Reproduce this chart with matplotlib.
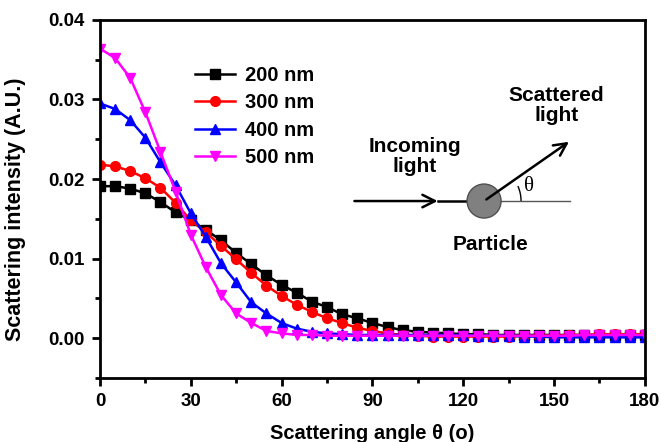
import numpy as np
import matplotlib
matplotlib.use("Agg")
import matplotlib.pyplot as plt
from matplotlib.patches import Ellipse, Arc
from matplotlib.ticker import MultipleLocator

plt.rcParams['font.family'] = ['Liberation Sans', 'DejaVu Sans']
plt.rcParams['font.weight'] = 'bold'

# ---------------- data ----------------
angle = list(range(0, 181, 5))

i_200 = [0.0191, 0.0191, 0.0188, 0.0182, 0.0171, 0.0158, 0.0148, 0.0136, 0.0123, 0.0107,
         0.0093, 0.0079, 0.0067, 0.0057, 0.0046, 0.0039, 0.0030, 0.0025, 0.0019, 0.0014,
         0.0010, 0.0008, 0.0007, 0.0006, 0.0005, 0.0005, 0.0004, 0.0004, 0.0004, 0.0004,
         0.0004, 0.0004, 0.0004, 0.0004, 0.0004, 0.0004, 0.0004]
i_300 = [0.0218, 0.0216, 0.0210, 0.0201, 0.0189, 0.0170, 0.0148, 0.0133, 0.0116, 0.0099,
         0.0082, 0.0066, 0.0053, 0.0042, 0.0033, 0.0025, 0.0019, 0.0013, 0.0009, 0.0006,
         0.0004, 0.0003, 0.0002, 0.0002, 0.0002, 0.0002, 0.0002, 0.0002, 0.0003, 0.0003,
         0.0003, 0.0004, 0.0004, 0.0005, 0.0005, 0.0005, 0.0005]
i_400 = [0.0295, 0.0288, 0.0274, 0.0252, 0.0221, 0.0192, 0.0157, 0.0127, 0.0094, 0.0070,
         0.0045, 0.0031, 0.0019, 0.0012, 0.0008, 0.0006, 0.0005, 0.0004, 0.0004, 0.0004,
         0.0004, 0.0004, 0.0004, 0.0004, 0.0004, 0.0003, 0.0003, 0.0003, 0.0002, 0.0002,
         0.0001, 0.0001, 0.0001, 0.0001, 0.0001, 0.0001, 0.0001]
i_500 = [0.0364, 0.0352, 0.0327, 0.0284, 0.0234, 0.0184, 0.0130, 0.0089, 0.0054, 0.0031,
         0.0019, 0.0009, 0.0006, 0.0004, 0.0004, 0.0003, 0.0003, 0.0003, 0.0003, 0.0003,
         0.0003, 0.0003, 0.0003, 0.0003, 0.0003, 0.0003, 0.0003, 0.0003, 0.0003, 0.0003,
         0.0003, 0.0003, 0.0004, 0.0004, 0.0004, 0.0004, 0.0004]

series = [
    ("200 nm", i_200, "black", "s"),
    ("300 nm", i_300, "red", "o"),
    ("400 nm", i_400, "blue", "^"),
    ("500 nm", i_500, "magenta", "v"),
]

fig = plt.figure(figsize=(6.62, 4.42), dpi=100)
ax = fig.add_axes([0.151, 0.145, 0.823, 0.81])

for label, vals, col, mk in series:
    ax.plot(angle, vals, color=col, marker=mk, markersize=7, linewidth=1.8, label=label)

ax.set_xlim(0, 180)
ax.set_ylim(-0.005, 0.04)
ax.xaxis.set_major_locator(MultipleLocator(30))
ax.xaxis.set_minor_locator(MultipleLocator(15))
ax.yaxis.set_minor_locator(MultipleLocator(0.005))
ax.set_yticks([0.0, 0.01, 0.02, 0.03, 0.04])
ax.set_yticklabels(["0.00", "0.01", "0.02", "0.03", "0.04"])
ax.tick_params(which='major', direction='out', length=6, width=2, labelsize=13.5, pad=5)
ax.tick_params(which='minor', direction='out', length=3.5, width=2)
for s in ax.spines.values():
    s.set_linewidth(2)

ax.set_xlabel("Scattering angle θ (o)", fontsize=14.5, fontweight='bold')
ax.set_ylabel("Scattering intensity (A.U.)", fontsize=15.5, fontweight='bold')
ax.xaxis.set_label_coords(0.5, -0.128)
ax.yaxis.set_label_coords(-0.135, 0.47)

leg = ax.legend(loc='upper left', bbox_to_anchor=(0.174, 0.872), frameon=False,
                prop={'size': 14.5, 'weight': 'bold'}, handlelength=2.0,
                handletextpad=0.5, labelspacing=0.42, borderaxespad=0, borderpad=0)

# ---------------- scattering sketch ----------------
tr = ax.transAxes
cx, cy = 0.705, 0.494
# incoming beam with mid chevron
ax.annotate("", xy=(0.625, cy), xytext=(0.462, cy), xycoords=tr,
            arrowprops=dict(arrowstyle='->,head_length=0.9,head_width=0.45', lw=1.8, color='black'))
ax.plot([0.62, cx], [cy, cy], transform=tr, color='black', lw=1.8)
# reference line
ax.plot([cx, 0.862], [cy, cy], transform=tr, color='#555555', lw=1)
# particle
ax.add_patch(Ellipse((cx, cy), 0.0624, 0.095, transform=tr, facecolor='#808080',
                     edgecolor='#505050', lw=1, zorder=5))
# scattered beam
ax.annotate("", xy=(0.865, 0.664), xytext=(cx, cy), xycoords=tr,
            arrowprops=dict(arrowstyle='->,head_length=0.9,head_width=0.45', lw=1.8, color='black'),
            zorder=6)
ax.add_patch(Arc((cx, cy), 2 * 37 / 545, 2 * 37 / 358, theta1=0, theta2=34,
                 transform=tr, color='black', lw=1))
ax.text(0.787, 0.535, "θ", transform=tr, fontsize=15, family='Liberation Serif',
        fontweight='normal', ha='center', va='center')

ax.text(0.578, 0.618, "Incoming\nlight", transform=tr, fontsize=15, ha='center',
        va='center', linespacing=1.05)
ax.text(0.838, 0.76, "Scattered\nlight", transform=tr, fontsize=15, ha='center',
        va='center', linespacing=1.05)
ax.text(0.716, 0.374, "Particle", transform=tr, fontsize=15, ha='center', va='center')

fig.savefig("out.png", dpi=100)
